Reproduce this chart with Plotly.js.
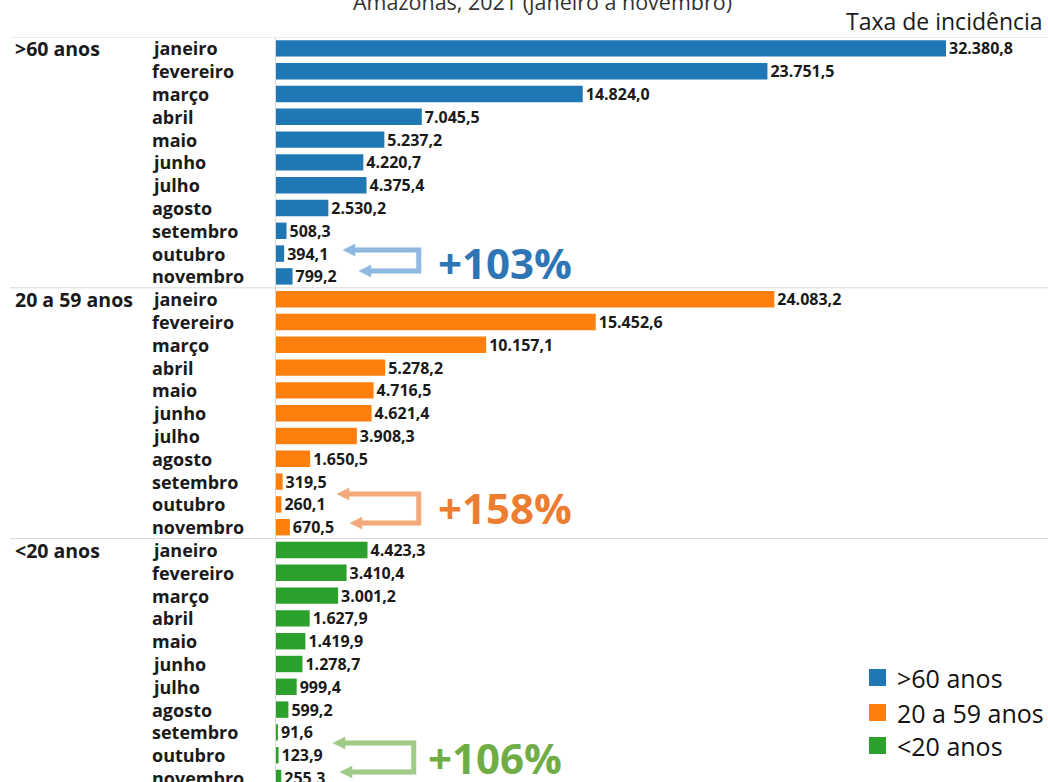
<!DOCTYPE html>
<html><head><meta charset="utf-8">
<script src="https://cdn.plot.ly/plotly-3.0.1.min.js"></script>
<style>html,body{margin:0;padding:0;background:#fff}#chart{width:1048px;height:782px}</style>
</head><body><div id="chart"></div>
<script>
const months = ["janeiro","fevereiro","março","abril","maio","junho","julho","agosto","setembro","outubro","novembro"];
const groups = [">60 anos","20 a 59 anos","<20 anos"];
const over60 = [32380.8,23751.5,14824.0,7045.5,5237.2,4220.7,4375.4,2530.2,508.3,394.1,799.2];
const age20to59 = [24083.2,15452.6,10157.1,5278.2,4716.5,4621.4,3908.3,1650.5,319.5,260.1,670.5];
const under20 = [4423.3,3410.4,3001.2,1627.9,1419.9,1278.7,999.4,599.2,91.6,123.9,255.3];
const changes = ["+103%","+158%","+106%"];
const chartTitle = "Amazonas, 2021 (janeiro a novembro)";
const measureTitle = "Taxa de incidência";

const colors = ["#1f77b4","#ff7f0e","#2ca02c"];
const arrowColors = ["#8fb9e0","#f2aa7c","#9fcb86"];
const pctColors = ["#2e75b6","#ed7d31","#70ad47"];
const seriesVals = [over60, age20to59, under20];

// layout geometry (pixels)
const W=1048, H=782, L=276, T=37, PW=W-L, PH=H-T, ROW=22.8, SCALE=0.020691;
const XMAX = PW/SCALE;
const YBOT = -0.5 + PH/ROW;
const px2x = p => (p-L)/SCALE;
const py2y = p => (p-T)/ROW - 0.5;
const px2paper = p => (p-L)/PW;
const py2paper = p => 1-(p-T)/PH;
const FONT = "Open Sans, Liberation Sans, sans-serif";

const traces = seriesVals.map((vals,g) => ({
  type:"bar", orientation:"h", name:groups[g],
  x: vals, y: months.map((m,i)=> g*months.length + i),
  marker:{color:colors[g]}, width:0.72,
  texttemplate:"%{x:,.1f}", textposition:"outside",
  textfont:{family:FONT, size:16, color:"#1a1a1a", weight:"bold"},
  cliponaxis:false, constraintext:"none", showlegend:false,
  hovertemplate: months.map(m=>groups[g]+" – "+m+": %{x:,.1f}<extra></extra>")
}));

const annotations = [];
const shapes = [];
seriesVals.forEach((vals,g) => {
  months.forEach((m,i) => {
    annotations.push({xref:"paper", yref:"y", x:px2paper(150), y:g*months.length+i,
      xanchor:"left", yanchor:"middle", text:m, showarrow:false,
      font:{family:FONT, size:18, color:"#1a1a1a", weight:"bold"}});
  });
  annotations.push({xref:"paper", yref:"y", x:px2paper(13), y:g*months.length,
    xanchor:"left", yanchor:"middle", text:groups[g], showarrow:false,
    font:{family:FONT, size:19.5, color:"#1a1a1a", weight:"bold"}});
  // separator line above each group
  shapes.push({type:"line", xref:"paper", yref:"y", x0:px2paper(10), x1:1,
    y0:g*months.length-0.5, y1:g*months.length-0.5, line:{color:"#d9d9d9", width:1}});
});

// bracket arrows (outubro -> novembro)
const arrowGeo = [
  {xt1:343, xt2:359, xr:421, yt:250, yb:271, tx:436, ty:262},
  {xt1:337, xt2:350, xr:421, yt:494, yb:523, tx:436, ty:508},
  {xt1:333, xt2:340, xr:416, yt:743, yb:772, tx:426, ty:757}
];
arrowGeo.forEach((a,g) => {
  const w=2.3, hh=6, hl=12;
  const pts = [
    [a.xt1, a.yt],[a.xt1+hl, a.yt-hh],[a.xt1+hl, a.yt-w],[a.xr, a.yt-w],
    [a.xr, a.yb+w],[a.xt2+hl, a.yb+w],[a.xt2+hl, a.yb+hh],[a.xt2, a.yb],
    [a.xt2+hl, a.yb-hh],[a.xt2+hl, a.yb-w],[a.xr-2*w, a.yb-w],[a.xr-2*w, a.yt+w],
    [a.xt1+hl, a.yt+w],[a.xt1+hl, a.yt+hh]
  ];
  const path = pts.map((p,k)=>(k?"L":"M")+px2x(p[0]).toFixed(2)+","+py2y(p[1]).toFixed(4)).join(" ")+" Z";
  shapes.push({type:"path", xref:"x", yref:"y", path:path, fillcolor:arrowColors[g],
    line:{color:arrowColors[g], width:0.5}, layer:"above"});
  annotations.push({xref:"paper", yref:"paper", x:px2paper(a.tx), y:py2paper(a.ty),
    xanchor:"left", yanchor:"middle", text:changes[g], showarrow:false,
    font:{family:FONT, size:42, color:pctColors[g], weight:"bold"}});
});

// manual legend
const legY = [678, 713, 746];
groups.forEach((gname,g) => {
  shapes.push({type:"rect", xref:"paper", yref:"paper",
    x0:px2paper(869), x1:px2paper(886), y0:py2paper(legY[g]-9), y1:py2paper(legY[g]+8),
    fillcolor:colors[g], line:{width:0}});
  annotations.push({xref:"paper", yref:"paper", x:px2paper(895), y:py2paper(legY[g]),
    xanchor:"left", yanchor:"middle", text:gname, showarrow:false,
    font:{family:FONT, size:25, color:"#111"}});
});

// titles
annotations.push({xref:"paper", yref:"paper", x:px2paper(542), y:py2paper(2),
  xanchor:"center", yanchor:"middle", text:chartTitle, showarrow:false,
  font:{family:FONT, size:21.5, color:"#333"}});
annotations.push({xref:"paper", yref:"paper", x:px2paper(1045), y:py2paper(21),
  xanchor:"right", yanchor:"middle", text:measureTitle, showarrow:false,
  font:{family:FONT, size:23, color:"#1a1a1a"}});

const layout = {
  width:W, height:H, margin:{l:L, r:0, t:T, b:0, pad:0},
  paper_bgcolor:"#fff", plot_bgcolor:"#fff",
  separators:",.", bargap:0.28,
  xaxis:{range:[0, XMAX], visible:false, fixedrange:true},
  yaxis:{range:[YBOT, -0.5], showticklabels:false, showgrid:false, zeroline:false,
    showline:true, linecolor:"#d9d9d9", linewidth:1, ticks:"", fixedrange:true},
  annotations:annotations, shapes:shapes, showlegend:false,
  font:{family:FONT}
};
Plotly.newPlot("chart", traces, layout, {displayModeBar:false, staticPlot:true});
</script></body></html>
